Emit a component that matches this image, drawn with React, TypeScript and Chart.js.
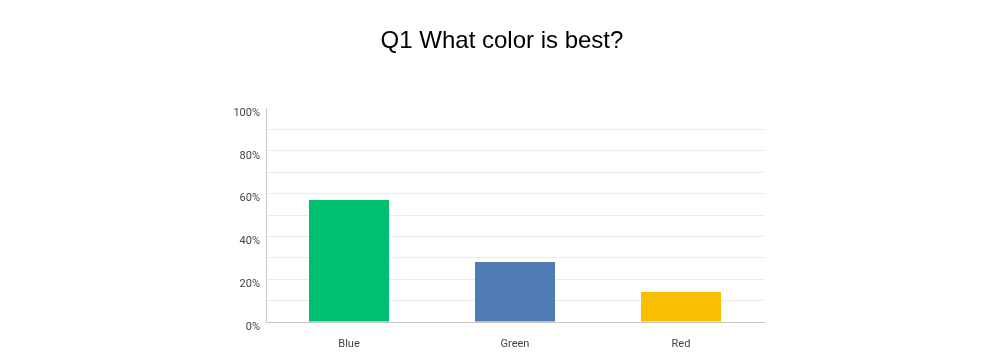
import React, { useEffect, useRef } from "react";
import { Chart, registerables } from "chart.js";

Chart.register(...registerables);

const TITLE = "Q1 What color is best?";
const categories = ["Blue", "Green", "Red"];
const values = [57, 28, 14];
const barColors = ["#00bf6f", "#507cb6", "#f9be00"];
const tickStep = 10;
const labelStep = 20;

const titlePlugin = {
  id: "customTitle",
  afterDraw(chart: any) {
    const ctx = chart.ctx;
    ctx.save();
    ctx.font = "24px 'Liberation Sans', Arial, sans-serif";
    ctx.fillStyle = "#000000";
    ctx.textAlign = "center";
    ctx.textBaseline = "alphabetic";
    ctx.fillText(TITLE, 502, 48);
    ctx.restore();
  },
};

export default function App() {
  const ref = useRef<HTMLCanvasElement | null>(null);
  useEffect(() => {
    document.body.style.margin = "0";
    const chart = new Chart(ref.current as HTMLCanvasElement, {
      type: "bar",
      data: {
        labels: categories,
        datasets: [
          {
            data: values,
            backgroundColor: barColors,
            borderWidth: 0,
            barPercentage: 0.482,
            categoryPercentage: 1,
          },
        ],
      },
      options: {
        animation: false,
        responsive: false,
        maintainAspectRatio: false,
        layout: { padding: { left: 0, right: 236, top: 108, bottom: 0 } },
        plugins: {
          legend: { display: false },
          title: { display: false },
          tooltip: { enabled: false },
        },
        scales: {
          x: {
            grid: { display: false, drawTicks: false },
            border: { display: true, color: "#c8c8c8", width: 1 },
            ticks: {
              color: "#444444",
              font: { family: "Roboto, 'Open Sans', sans-serif", size: 11 },
              padding: 16,
            },
            afterFit(scale: any) {
              scale.height = 38;
            },
          },
          y: {
            min: 0,
            max: 100,
            grid: {
              color: (c: any) =>
                c.tick && (c.tick.value === 0 || c.tick.value === 100) ? "rgba(0,0,0,0)" : "#ebebeb",
              drawTicks: false,
              lineWidth: 1,
            },
            border: { display: true, color: "#c8c8c8", width: 1 },
            ticks: {
              stepSize: tickStep,
              autoSkip: false,
              color: "#444444",
              font: { family: "Roboto, 'Open Sans', sans-serif", size: 11 },
              padding: 6,
              labelOffset: 5,
              callback: (v: any) => (Number(v) % labelStep === 0 ? v + "%" : ""),
            },
            afterFit(scale: any) {
              scale.width = 266;
            },
          },
        },
      },
      plugins: [titlePlugin],
    });
    return () => chart.destroy();
  }, []);
  return (
    <div style={{ position: "absolute", left: 0, top: 0, width: 1000, height: 360, background: "#ffffff" }}>
      <canvas ref={ref} width={1000} height={360} style={{ width: 1000, height: 360 }} />
    </div>
  );
}
